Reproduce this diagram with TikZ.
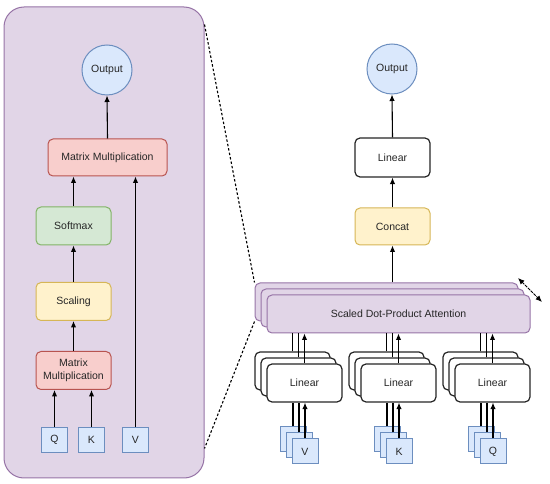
\documentclass[tikz,border=0pt]{standalone}
\usepackage{fontspec}
\setmainfont{Liberation Sans}
\usepackage{xcolor}
\usetikzlibrary{arrows.meta}
\definecolor{purpleF}{HTML}{E1D5E7}
\definecolor{purpleD}{HTML}{9673A6}
\definecolor{blueF}{HTML}{DAE8FC}
\definecolor{blueD}{HTML}{6C8EBF}
\definecolor{redF}{HTML}{F8CECC}
\definecolor{redD}{HTML}{B85450}
\definecolor{greenF}{HTML}{D5E8D4}
\definecolor{greenD}{HTML}{82B366}
\definecolor{yellowF}{HTML}{FFF2CC}
\definecolor{yellowD}{HTML}{D6B656}

\begin{document}
\begin{tikzpicture}[x=1pt,y=-1pt,every node/.style={font=\fontsize{10.5}{12.5}\selectfont,text=black!85},
  box/.style={rounded corners=5pt,minimum width=75pt,minimum height=38pt,inner sep=1pt,align=center,line width=1pt},
  redbox/.style={box,draw=redD,fill=redF},
  greenbox/.style={box,draw=greenD,fill=greenF},
  yellowbox/.style={box,draw=yellowD,fill=yellowF},
  linbox/.style={box,draw=black!85,fill=white,line width=1.2pt},
  attbox/.style={box,draw=purpleD,fill=purpleF,minimum width=263pt},
  circ/.style={circle,draw=blueD,fill=blueF,minimum size=50pt,inner sep=0pt,line width=1pt},
  inbox/.style={draw=blueD,fill=blueF,minimum width=26pt,minimum height=25pt,inner sep=0pt,line width=1pt},
  arr/.style={-{Latex[length=6.5pt,width=5.5pt]},line width=1.1pt},
  ln/.style={line width=1.1pt},
  zoomline/.style={line width=1.1pt,dash pattern=on 2.5pt off 2pt}]
\useasboundingbox (0,0) rectangle (550,484);

% left panel: inside of the attention block
\node[draw=purpleD,fill=purpleF,rounded corners=20pt,minimum width=200pt,minimum height=471pt,line width=1pt] (panel) at (104,242.5) {};
\node[circ] (outL) at (107,70) {Output};
\node[redbox,minimum width=119pt,minimum height=37pt] (mmTop) at (107.5,157.5) {Matrix Multiplication};
\node[greenbox] (soft) at (73.5,226) {Softmax};
\node[yellowbox] (scal) at (73.5,301.5) {Scaling};
\node[redbox] (mmBot) at (73.5,370.5) {Matrix\\Multiplication};
\node[inbox] (qL) at (54.5,440) {Q};
\node[inbox] (kL) at (91.5,440) {K};
\node[inbox] (vL) at (135.5,440) {V};
\draw[arr] (qL.north) -- (qL.north |- mmBot.south);
\draw[arr] (kL.north) -- (kL.north |- mmBot.south);
\draw[arr] (vL.north) -- (vL.north |- mmTop.south);
\draw[arr] (mmBot.north) -- (scal.south);
\draw[arr] (scal.north) -- (soft.south);
\draw[arr] (soft.north) -- (soft.north |- mmTop.south);
\draw[arr] (mmTop.north) -- (outL.south);

% right: multi-head attention
\node[attbox] (attc) at (386.5,302) {};
\node[attbox] (attb) at (392.5,308) {};
\node[attbox] (att) at (398.5,314) {Scaled Dot-Product Attention};
\node[yellowbox,minimum height=37pt] (concat) at (392.5,226.5) {Concat};
\node[linbox,minimum height=39pt] (linR) at (392.5,157.5) {Linear};
\node[circ] (outR) at (392,69) {Output};
\draw[arr] (concat.south |- attc.north) -- (concat.south);
\draw[arr] (concat.north) -- (linR.south);
\draw[arr] (linR.north) -- (outR.south);

% heads: V
\node[linbox] (linVc) at (292.5,371) {};
\node[linbox] (linVb) at (298.5,377) {};
\node[linbox] (linV) at (304.5,383) {Linear};
\node[inbox] (inVc) at (293,439.5) {};
\node[inbox] (inVb) at (299,445.5) {};
\node[inbox] (inV) at (305,451.5) {V};
% heads: K
\node[linbox] (linKc) at (386.5,371) {};
\node[linbox] (linKb) at (392.5,377) {};
\node[linbox] (linK) at (398.5,383) {Linear};
\node[inbox] (inKc) at (387,439.5) {};
\node[inbox] (inKb) at (393,445.5) {};
\node[inbox] (inK) at (399,451.5) {K};
% heads: Q
\node[linbox] (linQc) at (480.5,371) {};
\node[linbox] (linQb) at (486.5,377) {};
\node[linbox] (linQ) at (492.5,383) {Linear};
\node[inbox] (inQc) at (481,439.5) {};
\node[inbox] (inQb) at (487,445.5) {};
\node[inbox] (inQ) at (493,451.5) {Q};

\draw[ln] (linVc.north) -- (linVc.north |- att.south);
\draw[ln] (linVb.north) -- (linVb.north |- att.south);
\draw[arr] (linV.north) -- (linV.north |- att.south);
\draw[ln] (inVc.north) -- (inVc.north |- linV.south);
\draw[ln] (inVb.north) -- (inVb.north |- linV.south);
\draw[arr] (inV.north) -- (inV.north |- linV.south);

\draw[ln] (linKc.north) -- (linKc.north |- att.south);
\draw[ln] (linKb.north) -- (linKb.north |- att.south);
\draw[arr] (linK.north) -- (linK.north |- att.south);
\draw[ln] (inKc.north) -- (inKc.north |- linK.south);
\draw[ln] (inKb.north) -- (inKb.north |- linK.south);
\draw[arr] (inK.north) -- (inK.north |- linK.south);

\draw[ln] (linQc.north) -- (linQc.north |- att.south);
\draw[ln] (linQb.north) -- (linQb.north |- att.south);
\draw[arr] (linQ.north) -- (linQ.north |- att.south);
\draw[ln] (inQc.north) -- (inQc.north |- linQ.south);
\draw[ln] (inQb.north) -- (inQb.north |- linQ.south);
\draw[arr] (inQ.north) -- (inQ.north |- linQ.south);

% number of heads
\coordinate (hd1) at (518,278);
\coordinate (hd2) at (542,302);
\draw[{Latex[length=6.5pt,width=5.5pt]}-{Latex[length=6.5pt,width=5.5pt]},line width=1pt,dash pattern=on 3pt off 1pt] (hd1) -- (hd2);

% zoom lines
\draw[zoomline] (panel.north east) ++(0,18) -- (attc.north west);
\draw[zoomline] (attc.south west) -- ([yshift=30pt]panel.south east);
\end{tikzpicture}
\end{document}
